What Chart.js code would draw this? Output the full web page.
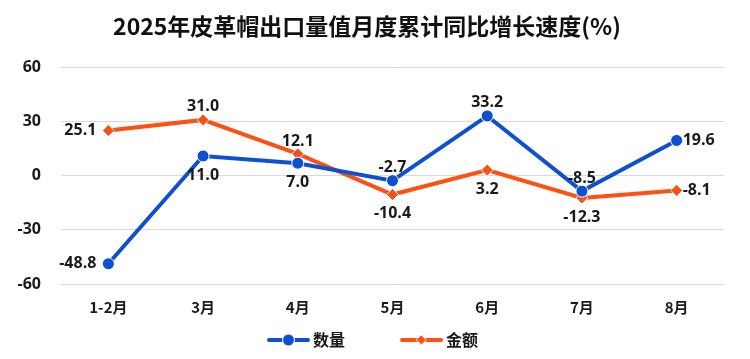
<!DOCTYPE html>
<html>
<head>
<meta charset="utf-8">
<script src="https://cdn.jsdelivr.net/npm/chart.js@4/dist/chart.umd.min.js"></script>
<style>
  html, body { margin: 0; padding: 0; background: #fff; }
  #wrap { position: relative; width: 750px; height: 359px; }
</style>
</head>
<body>
<div id="wrap"><canvas id="chart"></canvas></div>
<script>
const categories = ["1-2月", "3月", "4月", "5月", "6月", "7月", "8月"];
const quantity = [-48.8, 11.0, 7.0, -2.7, 33.2, -8.5, 19.6];
const amount = [25.1, 31.0, 12.1, -10.4, 3.2, -12.3, -8.1];
const quantityLabelPos = ["left", "below", "below", "above", "above", "above", "right"];
const amountLabelPos = ["left", "above", "above", "below", "below", "below", "right"];

const BLUE = "#0F50D2";
const ORANGE = "#FF5012";
const FONT = "'Noto Sans CJK SC', 'Noto Sans', sans-serif";
const NUM_FONT = "'Open Sans', 'Noto Sans', sans-serif";

function drawMarker(ctx, x, y, color, style, r) {
  ctx.fillStyle = color;
  ctx.strokeStyle = "#fff";
  ctx.lineWidth = 1;
  ctx.beginPath();
  if (style === "circle") {
    ctx.arc(x, y, r, 0, Math.PI * 2);
  } else {
    ctx.moveTo(x, y - r);
    ctx.lineTo(x + r, y);
    ctx.lineTo(x, y + r);
    ctx.lineTo(x - r, y);
    ctx.closePath();
  }
  ctx.fill();
  ctx.stroke();
}

const pointLabels = {
  id: "pointLabels",
  afterDatasetsDraw(chart) {
    const { ctx } = chart;
    const positions = [quantityLabelPos, amountLabelPos];
    ctx.save();
    ctx.font = "bold 16px " + NUM_FONT;
    ctx.fillStyle = "#1a1a1a";
    chart.data.datasets.forEach((ds, di) => {
      const meta = chart.getDatasetMeta(di);
      meta.data.forEach((pt, i) => {
        const pos = positions[di][i];
        const text = ds.data[i].toFixed(1);
        let x = pt.x, y = pt.y;
        if (pos === "left") {
          ctx.textAlign = "right"; ctx.textBaseline = "middle"; x -= 12;
        } else if (pos === "right") {
          ctx.textAlign = "left"; ctx.textBaseline = "middle"; x += 6;
        } else if (pos === "above") {
          ctx.textAlign = "center"; ctx.textBaseline = "bottom"; y -= 5;
        } else {
          ctx.textAlign = "center"; ctx.textBaseline = "top"; y += 11;
        }
        ctx.fillText(text, x, y);
      });
    });
    ctx.restore();
  }
};

// legend drawn by hand: line + marker + name
const lineLegend = {
  id: "lineLegend",
  afterDraw(chart) {
    const { ctx } = chart;
    const y = 340;
    const items = [
      { x: 267, color: BLUE, style: "circle", r: 6 },
      { x: 400, color: ORANGE, style: "diamond", r: 5 }
    ];
    ctx.save();
    chart.data.datasets.forEach((ds, i) => {
      const it = items[i];
      ctx.strokeStyle = it.color;
      ctx.lineWidth = 4;
      ctx.lineCap = "round";
      ctx.beginPath();
      ctx.moveTo(it.x + 2, y);
      ctx.lineTo(it.x + 41, y);
      ctx.stroke();
      drawMarker(ctx, it.x + 21.5, y, it.color, it.style, it.r);
      ctx.font = "bold 16px " + FONT;
      ctx.fillStyle = "#1a1a1a";
      ctx.textAlign = "left";
      ctx.textBaseline = "middle";
      ctx.fillText(ds.label, it.x + 46, y);
    });
    ctx.restore();
  }
};

new Chart(document.getElementById("chart"), {
  type: "line",
  data: {
    labels: categories,
    datasets: [
      {
        label: "数量",
        data: quantity,
        borderColor: BLUE,
        backgroundColor: BLUE,
        borderWidth: 4,
        pointStyle: "circle",
        pointRadius: 6,
        pointBorderColor: "#fff",
        pointBorderWidth: 1,
        pointBackgroundColor: BLUE,
        tension: 0
      },
      {
        label: "金额",
        data: amount,
        borderColor: ORANGE,
        backgroundColor: ORANGE,
        borderWidth: 4,
        pointStyle: "rectRot",
        pointRadius: 6,
        pointBorderColor: "#fff",
        pointBorderWidth: 1,
        pointBackgroundColor: ORANGE,
        tension: 0
      }
    ]
  },
  options: {
    responsive: true,
    maintainAspectRatio: false,
    animation: false,
    layout: { padding: { left: 10, right: 26, top: 0, bottom: 37 } },
    plugins: {
      title: {
        display: true,
        text: "2025年皮革帽出口量值月度累计同比增长速度(%)",
        color: "#111",
        font: { family: FONT, size: 23, weight: "bold" },
        padding: { top: 12, bottom: 28 }
      },
      legend: { display: false },
      tooltip: { enabled: false }
    },
    scales: {
      x: {
        offset: true,
        grid: { display: false },
        border: { display: false },
        ticks: {
          color: "#1a1a1a",
          font: { family: FONT, size: 15, weight: "bold" },
          padding: 6
        }
      },
      y: {
        min: -60,
        max: 60,
        afterFit(scale) { scale.width = 51; },
        grid: { color: "#d9d9d9", lineWidth: 1, drawTicks: false },
        border: { display: false },
        ticks: {
          stepSize: 30,
          color: "#1a1a1a",
          font: { family: NUM_FONT, size: 16, weight: "bold" },
          padding: 20
        }
      }
    }
  },
  plugins: [pointLabels, lineLegend]
});
</script>
</body>
</html>
